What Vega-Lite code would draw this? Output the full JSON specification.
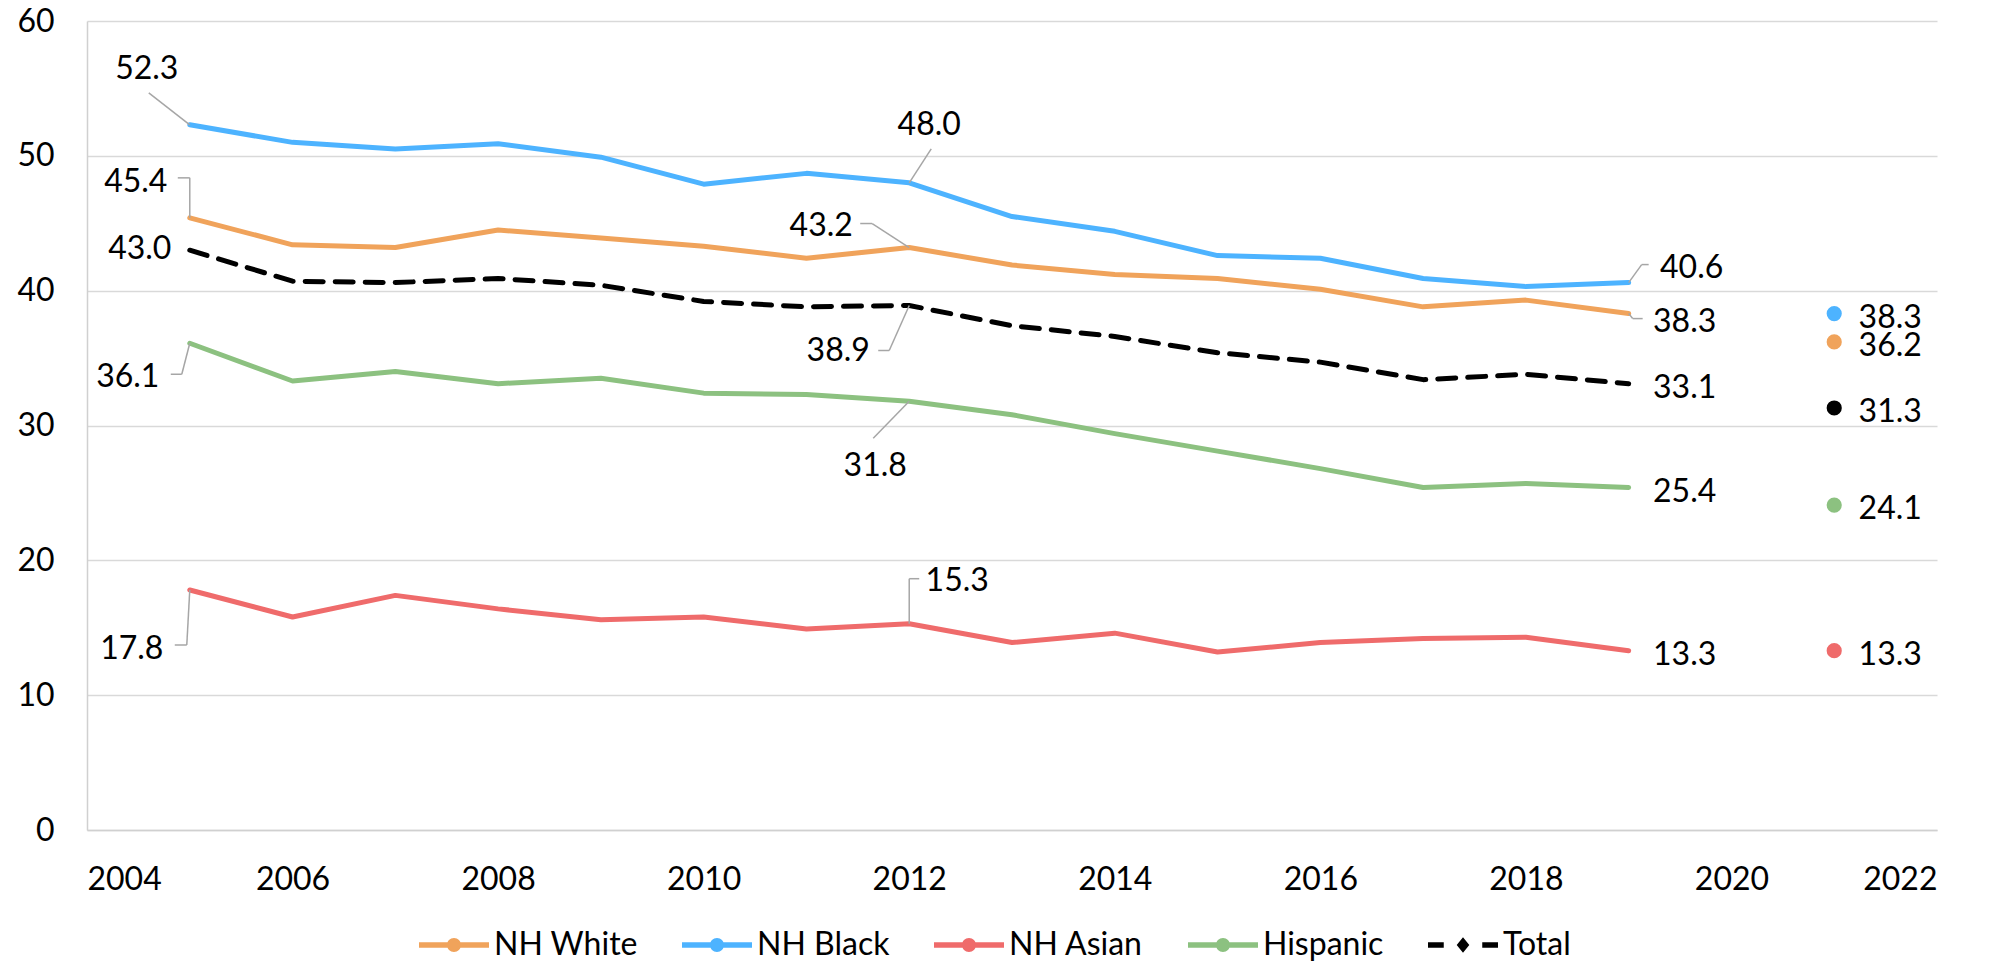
{
  "$schema": "https://vega.github.io/schema/vega-lite/v6.json",
  "width": 1850,
  "height": 809,
  "autosize": {"type": "none"},
  "padding": {"left": 87, "top": 21, "right": 53, "bottom": 134},
  "background": "white",
  "config": {
    "view": {"stroke": null},
    "font": "Lato",
    "axis": {"labelFont": "Lato", "labelFontSize": 32, "labelColor": "#000000", "ticks": false, "title": null, "domainColor": "#D0D0D0", "domainWidth": 1.5, "gridColor": "#D9D9D9", "gridWidth": 1.5},
    "text": {"font": "Lato", "fontSize": 32, "color": "#000000", "align": "center", "baseline": "middle"},
    "rule": {"color": "#A6A6A6", "strokeWidth": 1.5}
  },
  "datasets": {
    "main": [
      {"series": "NH White", "year": 2005, "value": 45.4}, {"series": "NH White", "year": 2006, "value": 43.4}, {"series": "NH White", "year": 2007, "value": 43.2}, {"series": "NH White", "year": 2008, "value": 44.5}, {"series": "NH White", "year": 2009, "value": 43.9}, {"series": "NH White", "year": 2010, "value": 43.3}, {"series": "NH White", "year": 2011, "value": 42.4}, {"series": "NH White", "year": 2012, "value": 43.2}, {"series": "NH White", "year": 2013, "value": 41.9}, {"series": "NH White", "year": 2014, "value": 41.2}, {"series": "NH White", "year": 2015, "value": 40.9}, {"series": "NH White", "year": 2016, "value": 40.1}, {"series": "NH White", "year": 2017, "value": 38.8}, {"series": "NH White", "year": 2018, "value": 39.3}, {"series": "NH White", "year": 2019, "value": 38.3},
      {"series": "NH Black", "year": 2005, "value": 52.3}, {"series": "NH Black", "year": 2006, "value": 51.0}, {"series": "NH Black", "year": 2007, "value": 50.5}, {"series": "NH Black", "year": 2008, "value": 50.9}, {"series": "NH Black", "year": 2009, "value": 49.9}, {"series": "NH Black", "year": 2010, "value": 47.9}, {"series": "NH Black", "year": 2011, "value": 48.7}, {"series": "NH Black", "year": 2012, "value": 48.0}, {"series": "NH Black", "year": 2013, "value": 45.5}, {"series": "NH Black", "year": 2014, "value": 44.4}, {"series": "NH Black", "year": 2015, "value": 42.6}, {"series": "NH Black", "year": 2016, "value": 42.4}, {"series": "NH Black", "year": 2017, "value": 40.9}, {"series": "NH Black", "year": 2018, "value": 40.3}, {"series": "NH Black", "year": 2019, "value": 40.6},
      {"series": "NH Asian", "year": 2005, "value": 17.8}, {"series": "NH Asian", "year": 2006, "value": 15.8}, {"series": "NH Asian", "year": 2007, "value": 17.4}, {"series": "NH Asian", "year": 2008, "value": 16.4}, {"series": "NH Asian", "year": 2009, "value": 15.6}, {"series": "NH Asian", "year": 2010, "value": 15.8}, {"series": "NH Asian", "year": 2011, "value": 14.9}, {"series": "NH Asian", "year": 2012, "value": 15.3}, {"series": "NH Asian", "year": 2013, "value": 13.9}, {"series": "NH Asian", "year": 2014, "value": 14.6}, {"series": "NH Asian", "year": 2015, "value": 13.2}, {"series": "NH Asian", "year": 2016, "value": 13.9}, {"series": "NH Asian", "year": 2017, "value": 14.2}, {"series": "NH Asian", "year": 2018, "value": 14.3}, {"series": "NH Asian", "year": 2019, "value": 13.3},
      {"series": "Hispanic", "year": 2005, "value": 36.1}, {"series": "Hispanic", "year": 2006, "value": 33.3}, {"series": "Hispanic", "year": 2007, "value": 34.0}, {"series": "Hispanic", "year": 2008, "value": 33.1}, {"series": "Hispanic", "year": 2009, "value": 33.5}, {"series": "Hispanic", "year": 2010, "value": 32.4}, {"series": "Hispanic", "year": 2011, "value": 32.3}, {"series": "Hispanic", "year": 2012, "value": 31.8}, {"series": "Hispanic", "year": 2013, "value": 30.8}, {"series": "Hispanic", "year": 2014, "value": 29.4}, {"series": "Hispanic", "year": 2015, "value": 28.1}, {"series": "Hispanic", "year": 2016, "value": 26.8}, {"series": "Hispanic", "year": 2017, "value": 25.4}, {"series": "Hispanic", "year": 2018, "value": 25.7}, {"series": "Hispanic", "year": 2019, "value": 25.4},
      {"series": "Total", "year": 2005, "value": 43.0}, {"series": "Total", "year": 2006, "value": 40.7}, {"series": "Total", "year": 2007, "value": 40.6}, {"series": "Total", "year": 2008, "value": 40.9}, {"series": "Total", "year": 2009, "value": 40.4}, {"series": "Total", "year": 2010, "value": 39.2}, {"series": "Total", "year": 2011, "value": 38.8}, {"series": "Total", "year": 2012, "value": 38.9}, {"series": "Total", "year": 2013, "value": 37.4}, {"series": "Total", "year": 2014, "value": 36.6}, {"series": "Total", "year": 2015, "value": 35.4}, {"series": "Total", "year": 2016, "value": 34.7}, {"series": "Total", "year": 2017, "value": 33.4}, {"series": "Total", "year": 2018, "value": 33.8}, {"series": "Total", "year": 2019, "value": 33.1}
    ],
    "proj": [
      {"series": "NH Black", "year": 2021, "value": 38.3},
      {"series": "NH White", "year": 2021, "value": 36.2},
      {"series": "Total", "year": 2021, "value": 31.3},
      {"series": "Hispanic", "year": 2021, "value": 24.1},
      {"series": "NH Asian", "year": 2021, "value": 13.3}
    ]
  },
  "encoding": {
    "x": {"field": "year", "type": "quantitative", "scale": {"domain": [2004, 2022], "nice": false, "zero": false}, "axis": {"values": [2004, 2006, 2008, 2010, 2012, 2014, 2016, 2018, 2020, 2022], "format": "d", "grid": false, "labelPadding": 34, "domain": true}},
    "y": {"field": "value", "type": "quantitative", "scale": {"domain": [0, 60], "nice": false}, "axis": {"values": [0, 10, 20, 30, 40, 50, 60], "grid": true, "labelPadding": 33, "domain": true}}
  },
  "layer": [
    {
      "data": {"name": "main"},
      "transform": [{"filter": "datum.series != 'Total'"}],
      "mark": {"type": "line", "strokeWidth": 5, "strokeJoin": "round", "strokeCap": "round"},
      "encoding": {
        "color": {"field": "series", "type": "nominal",
          "scale": {"domain": ["NH White", "NH Black", "NH Asian", "Hispanic", "Total"], "range": ["#F0A35B", "#4DB3FF", "#EF6B6B", "#8CC180", "#000000"]},
          "legend": {"title": null, "orient": "none", "direction": "horizontal", "legendX": 332, "legendY": 889, "padding": 0,
            "labelFont": "Lato", "labelFontSize": 32, "labelColor": "#000000", "labelOffset": 5, "columnPadding": 44,
            "symbolSize": 4900, "symbolStrokeWidth": 0,
            "symbolType": "M-1,-0.08 L1,-0.08 L1,0.08 L-1,0.08 Z M-0.2,0 A0.2,0.2 0 1,1 0.2,0 A0.2,0.2 0 1,1 -0.2,0 Z",
            "encode": {"symbols": {"update": {
              "fill": {"scale": "color", "field": "value"},
              "stroke": {"value": "transparent"},
              "opacity": {"value": 1},
              "shape": {"signal": "datum.value === 'Total' ? 'M-1,-0.08 L-0.55,-0.08 L-0.55,0.08 L-1,0.08 Z M0,-0.22 L0.18,0 L0,0.22 L-0.18,0 Z M0.55,-0.08 L1,-0.08 L1,0.08 L0.55,0.08 Z' : 'M-1,-0.08 L1,-0.08 L1,0.08 L-1,0.08 Z M-0.2,0 A0.2,0.2 0 1,1 0.2,0 A0.2,0.2 0 1,1 -0.2,0 Z'"}
            }}}
          }
        }
      }
    },
    {
      "data": {"name": "main"},
      "transform": [{"filter": "datum.series == 'Total'"}],
      "mark": {"type": "line", "strokeWidth": 5, "strokeCap": "round", "strokeJoin": "round", "strokeDash": [18, 12]},
      "encoding": {"color": {"field": "series", "type": "nominal"}}
    },
    {
      "data": {"name": "proj"},
      "mark": {"type": "point", "shape": "circle", "filled": true, "size": 230, "opacity": 1},
      "encoding": {"color": {"field": "series", "type": "nominal"}}
    },
    {
      "data": {"name": "proj"},
      "mark": {"type": "text", "dx": 56, "dy": 4},
      "encoding": {"text": {"field": "value", "type": "quantitative", "format": ".1f"}}
    },

    {"data": {"name": "main"}, "transform": [{"filter": "datum.year == 2019 && (datum.series == 'Total' || datum.series == 'Hispanic' || datum.series == 'NH Asian')"}],
     "mark": {"type": "text", "dx": 56, "dy": 4}, "encoding": {"text": {"field": "value", "type": "quantitative", "format": ".1f"}}},
    {"data": {"name": "main"}, "transform": [{"filter": "datum.year == 2019 && datum.series == 'NH White'"}],
     "mark": {"type": "text", "dx": 56, "dy": 8}, "encoding": {"text": {"field": "value", "type": "quantitative", "format": ".1f"}}},
    {"data": {"name": "main"}, "transform": [{"filter": "datum.year == 2019 && datum.series == 'NH Black'"}],
     "mark": {"type": "text", "dx": 63, "dy": -15}, "encoding": {"text": {"field": "value", "type": "quantitative", "format": ".1f"}}},

    {"data": {"name": "main"}, "transform": [{"filter": "datum.year == 2005 && datum.series == 'NH Black'"}],
     "mark": {"type": "text", "dx": -43, "dy": -56}, "encoding": {"text": {"field": "value", "type": "quantitative", "format": ".1f"}}},
    {"data": {"name": "main"}, "transform": [{"filter": "datum.year == 2005 && datum.series == 'NH White'"}],
     "mark": {"type": "text", "dx": -54, "dy": -36}, "encoding": {"text": {"field": "value", "type": "quantitative", "format": ".1f"}}},
    {"data": {"name": "main"}, "transform": [{"filter": "datum.year == 2005 && datum.series == 'Total'"}],
     "mark": {"type": "text", "dx": -50, "dy": -1}, "encoding": {"text": {"field": "value", "type": "quantitative", "format": ".1f"}}},
    {"data": {"name": "main"}, "transform": [{"filter": "datum.year == 2005 && datum.series == 'Hispanic'"}],
     "mark": {"type": "text", "dx": -62, "dy": 34}, "encoding": {"text": {"field": "value", "type": "quantitative", "format": ".1f"}}},
    {"data": {"name": "main"}, "transform": [{"filter": "datum.year == 2005 && datum.series == 'NH Asian'"}],
     "mark": {"type": "text", "dx": -58, "dy": 59}, "encoding": {"text": {"field": "value", "type": "quantitative", "format": ".1f"}}},

    {"data": {"name": "main"}, "transform": [{"filter": "datum.year == 2012 && datum.series == 'NH Black'"}],
     "mark": {"type": "text", "dx": 20, "dy": -58}, "encoding": {"text": {"field": "value", "type": "quantitative", "format": ".1f"}}},
    {"data": {"name": "main"}, "transform": [{"filter": "datum.year == 2012 && datum.series == 'NH White'"}],
     "mark": {"type": "text", "dx": -88, "dy": -22}, "encoding": {"text": {"field": "value", "type": "quantitative", "format": ".1f"}}},
    {"data": {"name": "main"}, "transform": [{"filter": "datum.year == 2012 && datum.series == 'Total'"}],
     "mark": {"type": "text", "dx": -71, "dy": 46}, "encoding": {"text": {"field": "value", "type": "quantitative", "format": ".1f"}}},
    {"data": {"name": "main"}, "transform": [{"filter": "datum.year == 2012 && datum.series == 'Hispanic'"}],
     "mark": {"type": "text", "dx": -34, "dy": 65}, "encoding": {"text": {"field": "value", "type": "quantitative", "format": ".1f"}}},
    {"data": {"name": "main"}, "transform": [{"filter": "datum.year == 2012 && datum.series == 'NH Asian'"}],
     "mark": {"type": "text", "dx": 48, "dy": -43}, "encoding": {"text": {"field": "value", "type": "quantitative", "format": ".1f"}}},

    {"data": {"name": "main"}, "transform": [{"filter": "datum.year == 2005 && datum.series == 'NH Black'"}],
     "mark": {"type": "rule", "x2Offset": -41, "y2Offset": -32}, "encoding": {"x2": {"field": "year"}, "y2": {"field": "value"}}},
    {"data": {"name": "main"}, "transform": [{"filter": "datum.year == 2005 && datum.series == 'NH White'"}],
     "mark": {"type": "rule", "x2Offset": 0, "y2Offset": -40}, "encoding": {"x2": {"field": "year"}, "y2": {"field": "value"}}},
    {"data": {"name": "main"}, "transform": [{"filter": "datum.year == 2005 && datum.series == 'NH White'"}],
     "mark": {"type": "rule", "xOffset": 0, "yOffset": -40, "x2Offset": -12, "y2Offset": -40}, "encoding": {"x2": {"field": "year"}, "y2": {"field": "value"}}},
    {"data": {"name": "main"}, "transform": [{"filter": "datum.year == 2005 && datum.series == 'Hispanic'"}],
     "mark": {"type": "rule", "x2Offset": -8, "y2Offset": 31}, "encoding": {"x2": {"field": "year"}, "y2": {"field": "value"}}},
    {"data": {"name": "main"}, "transform": [{"filter": "datum.year == 2005 && datum.series == 'Hispanic'"}],
     "mark": {"type": "rule", "xOffset": -8, "yOffset": 31, "x2Offset": -19, "y2Offset": 31}, "encoding": {"x2": {"field": "year"}, "y2": {"field": "value"}}},
    {"data": {"name": "main"}, "transform": [{"filter": "datum.year == 2005 && datum.series == 'NH Asian'"}],
     "mark": {"type": "rule", "x2Offset": -3, "y2Offset": 55}, "encoding": {"x2": {"field": "year"}, "y2": {"field": "value"}}},
    {"data": {"name": "main"}, "transform": [{"filter": "datum.year == 2005 && datum.series == 'NH Asian'"}],
     "mark": {"type": "rule", "xOffset": -3, "yOffset": 55, "x2Offset": -15, "y2Offset": 55}, "encoding": {"x2": {"field": "year"}, "y2": {"field": "value"}}},

    {"data": {"name": "main"}, "transform": [{"filter": "datum.year == 2012 && datum.series == 'NH Black'"}],
     "mark": {"type": "rule", "x2Offset": 22, "y2Offset": -34}, "encoding": {"x2": {"field": "year"}, "y2": {"field": "value"}}},
    {"data": {"name": "main"}, "transform": [{"filter": "datum.year == 2012 && datum.series == 'NH White'"}],
     "mark": {"type": "rule", "x2Offset": -37, "y2Offset": -24}, "encoding": {"x2": {"field": "year"}, "y2": {"field": "value"}}},
    {"data": {"name": "main"}, "transform": [{"filter": "datum.year == 2012 && datum.series == 'NH White'"}],
     "mark": {"type": "rule", "xOffset": -37, "yOffset": -24, "x2Offset": -49, "y2Offset": -24}, "encoding": {"x2": {"field": "year"}, "y2": {"field": "value"}}},
    {"data": {"name": "main"}, "transform": [{"filter": "datum.year == 2012 && datum.series == 'Total'"}],
     "mark": {"type": "rule", "x2Offset": -20, "y2Offset": 45}, "encoding": {"x2": {"field": "year"}, "y2": {"field": "value"}}},
    {"data": {"name": "main"}, "transform": [{"filter": "datum.year == 2012 && datum.series == 'Total'"}],
     "mark": {"type": "rule", "xOffset": -20, "yOffset": 45, "x2Offset": -31, "y2Offset": 45}, "encoding": {"x2": {"field": "year"}, "y2": {"field": "value"}}},
    {"data": {"name": "main"}, "transform": [{"filter": "datum.year == 2012 && datum.series == 'Hispanic'"}],
     "mark": {"type": "rule", "x2Offset": -36, "y2Offset": 37}, "encoding": {"x2": {"field": "year"}, "y2": {"field": "value"}}},
    {"data": {"name": "main"}, "transform": [{"filter": "datum.year == 2012 && datum.series == 'NH Asian'"}],
     "mark": {"type": "rule", "x2Offset": 0, "y2Offset": -45}, "encoding": {"x2": {"field": "year"}, "y2": {"field": "value"}}},
    {"data": {"name": "main"}, "transform": [{"filter": "datum.year == 2012 && datum.series == 'NH Asian'"}],
     "mark": {"type": "rule", "xOffset": 0, "yOffset": -45, "x2Offset": 10, "y2Offset": -45}, "encoding": {"x2": {"field": "year"}, "y2": {"field": "value"}}},

    {"data": {"name": "main"}, "transform": [{"filter": "datum.year == 2019 && datum.series == 'NH Black'"}],
     "mark": {"type": "rule", "x2Offset": 13, "y2Offset": -18}, "encoding": {"x2": {"field": "year"}, "y2": {"field": "value"}}},
    {"data": {"name": "main"}, "transform": [{"filter": "datum.year == 2019 && datum.series == 'NH Black'"}],
     "mark": {"type": "rule", "xOffset": 13, "yOffset": -18, "x2Offset": 20, "y2Offset": -18}, "encoding": {"x2": {"field": "year"}, "y2": {"field": "value"}}},
    {"data": {"name": "main"}, "transform": [{"filter": "datum.year == 2019 && datum.series == 'NH White'"}],
     "mark": {"type": "rule", "x2Offset": 4, "y2Offset": 5}, "encoding": {"x2": {"field": "year"}, "y2": {"field": "value"}}},
    {"data": {"name": "main"}, "transform": [{"filter": "datum.year == 2019 && datum.series == 'NH White'"}],
     "mark": {"type": "rule", "xOffset": 4, "yOffset": 5, "x2Offset": 14, "y2Offset": 5}, "encoding": {"x2": {"field": "year"}, "y2": {"field": "value"}}}
  ]
}
